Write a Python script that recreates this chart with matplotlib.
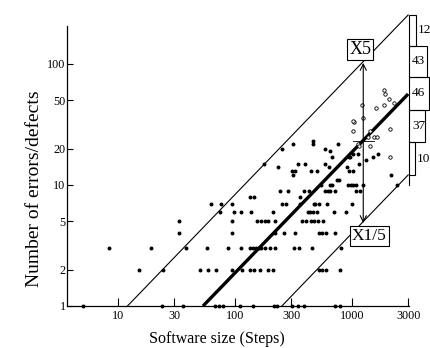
import matplotlib
matplotlib.use("Agg")
import numpy as np
import matplotlib.pyplot as plt
from matplotlib.patches import Rectangle
from matplotlib.ticker import FixedLocator, FixedFormatter, NullLocator
from matplotlib.transforms import blended_transform_factory

plt.rcParams["font.family"] = ["Liberation Serif", "DejaVu Serif"]

# filled dots: software size (steps) and number of errors, one line per error count
size_x = [5, 23.5, 36, 67, 72, 78, 110, 143, 213, 228, 303, 345, 390, 715, 785,
          15, 24, 50, 58, 69, 93, 114, 134, 144, 164, 192, 212, 515, 556, 600, 790,
          8.4, 19, 38, 57, 86, 112, 133, 143, 150, 158, 167, 180, 199, 220, 315, 348, 451, 805,
          33, 93, 220, 262, 326, 524, 556, 597, 718,
          33, 93, 152, 165, 178, 190, 220, 375, 402, 440, 470, 510, 560,
          74, 97, 113, 135, 212, 420, 436, 459, 497, 692, 881,
          62, 76, 94, 251, 271, 354, 467, 480, 516, 610, 993,
          134, 145, 354,
          243, 284, 390, 430, 588, 618, 650, 718, 1075, 1156,
          536, 650, 671, 915, 973, 1021, 1077, 1232, 2390,
          747, 776,
          313, 2125,
          303, 324, 441, 502, 930, 1021,
          234, 626, 907,
          177, 344, 398, 588, 1150,
          1319,
          672, 930, 964, 1503,
          1016, 1125, 1650,
          640,
          250, 585,
          309, 460, 748,
          458]
errors_y = [1] * 15 + [2] * 16 + [3] * 18 + [4] * 9 + [5] * 13 + [6] * 11 + [7] * 11 \
    + [8] * 3 + [9] * 10 + [10] * 9 + [11] * 2 + [12] * 2 + [13] * 6 + [14] * 3 \
    + [15] * 5 + [16] * 1 + [17] * 4 + [18] * 3 + [19] * 1 + [20] * 2 + [22] * 3 + [23] * 1

# small open circles (upper right)
open_x = [2080, 1110, 1140, 1425, 1370, 1520, 1625, 1010, 1425, 2080,
          1040, 1010, 1230, 1600, 1220, 1870, 2285, 2060, 1915, 1850]
open_y = [17, 22, 21, 21, 25, 25, 25, 28, 28, 29,
          33, 34, 36, 43, 46, 46, 48, 51, 57, 61]

# reference lines (x5, mean, x1/5)
upper_x, upper_y = [12, 3000], [1, 254]
mean_x, mean_y = [53, 3000], [1, 56.5]
lower_x, lower_y = [250, 3000], [1, 12.1]

# band edges at x=3000 (bottom -> top) and counts in each band
band_edges = [12.1, 22.6, 41.7, 78, 141, 254]
band_counts = [10, 37, 46, 43, 12]

arrow_x = 1240
arrow_y = [4.85, 102]
mark_x = [1020, 1535]
mark_y = 23.3

xticks = [10, 30, 100, 300, 1000, 3000]
yticks = [1, 2, 5, 10, 20, 50, 100]

fig = plt.figure(figsize=(4.3, 3.48), dpi=100)
ax = fig.add_axes([67 / 430, 42 / 348, 342 / 430, 280 / 348])
ax.set_xscale("log")
ax.set_yscale("log")
ax.set_xlim(3.65, 3050)
ax.set_ylim(1, 206)

ax.plot(upper_x, upper_y, color="black", lw=0.8, clip_on=False, zorder=2)
ax.plot(lower_x, lower_y, color="black", lw=0.8, clip_on=False, zorder=2)
ax.plot(mean_x, mean_y, color="black", lw=2.4, clip_on=False, zorder=2,
        solid_capstyle="butt")

ax.scatter(size_x, errors_y, s=8, color="black", lw=0, clip_on=False, zorder=3)
ax.scatter(open_x, open_y, s=6, facecolors="white", edgecolors="black",
           linewidths=0.6, clip_on=False, zorder=3)

# vertical x5 / x1/5 arrow with mark on the mean line
ax.annotate("", xy=(arrow_x, arrow_y[1]), xytext=(arrow_x, arrow_y[0]),
            arrowprops=dict(arrowstyle="<->", lw=0.8, color="black",
                            shrinkA=0, shrinkB=0, mutation_scale=11))
ax.plot(mark_x, [mark_y, mark_y], color="black", lw=0.6)

box = dict(boxstyle="square,pad=0.12", fc="white", ec="black", lw=0.8)
ax.text(1170, 132, "X5", ha="center", va="center", fontsize=13, bbox=box, zorder=5)
ax.text(1396, 3.79, "X1/5", ha="center", va="center", fontsize=12.5, bbox=box, zorder=5)

# side histogram of counts in each band
trans = blended_transform_factory(ax.transAxes, ax.transData)
ax_w = 342.0
for lo, hi, n in zip(band_edges[:-1], band_edges[1:], band_counts):
    w = (2.5 + 0.37 * n) / ax_w
    ax.add_patch(Rectangle((1.0, lo), w, hi - lo, transform=trans, fill=False,
                           ec="black", lw=0.8, clip_on=False))
    xt = 1.0 + (3 / ax_w if n > 20 else w + 2 / ax_w)
    ax.text(xt, np.sqrt(lo * hi), str(n), transform=trans, ha="left",
            va="center", fontsize=9.5)
ax.plot([1.0, 1.0], [10, band_edges[0]], transform=trans, color="black",
        lw=0.8, clip_on=False)

for side in ["top", "right"]:
    ax.spines[side].set_visible(False)
for side in ["left", "bottom"]:
    ax.spines[side].set_linewidth(0.9)

ax.xaxis.set_major_locator(FixedLocator(xticks))
ax.xaxis.set_major_formatter(FixedFormatter([str(t) for t in xticks]))
ax.yaxis.set_major_locator(FixedLocator(yticks))
ax.yaxis.set_major_formatter(FixedFormatter([str(t) for t in yticks]))
ax.xaxis.set_minor_locator(NullLocator())
ax.yaxis.set_minor_locator(NullLocator())
ax.tick_params(axis="x", direction="in", length=6, width=0.8, labelsize=8.7, pad=3)
ax.tick_params(axis="y", direction="in", length=4, width=0.8, labelsize=8.7, pad=1)

fig.text(217 / 430, 1 - 339 / 348, "Software size (Steps)", ha="center",
         va="center", fontsize=11.5)
fig.text(35 / 430, 1 - 189 / 348, "Number of errors/defects", ha="center",
         va="center", rotation=90, fontsize=14)

fig.savefig("out.png", dpi=100)
